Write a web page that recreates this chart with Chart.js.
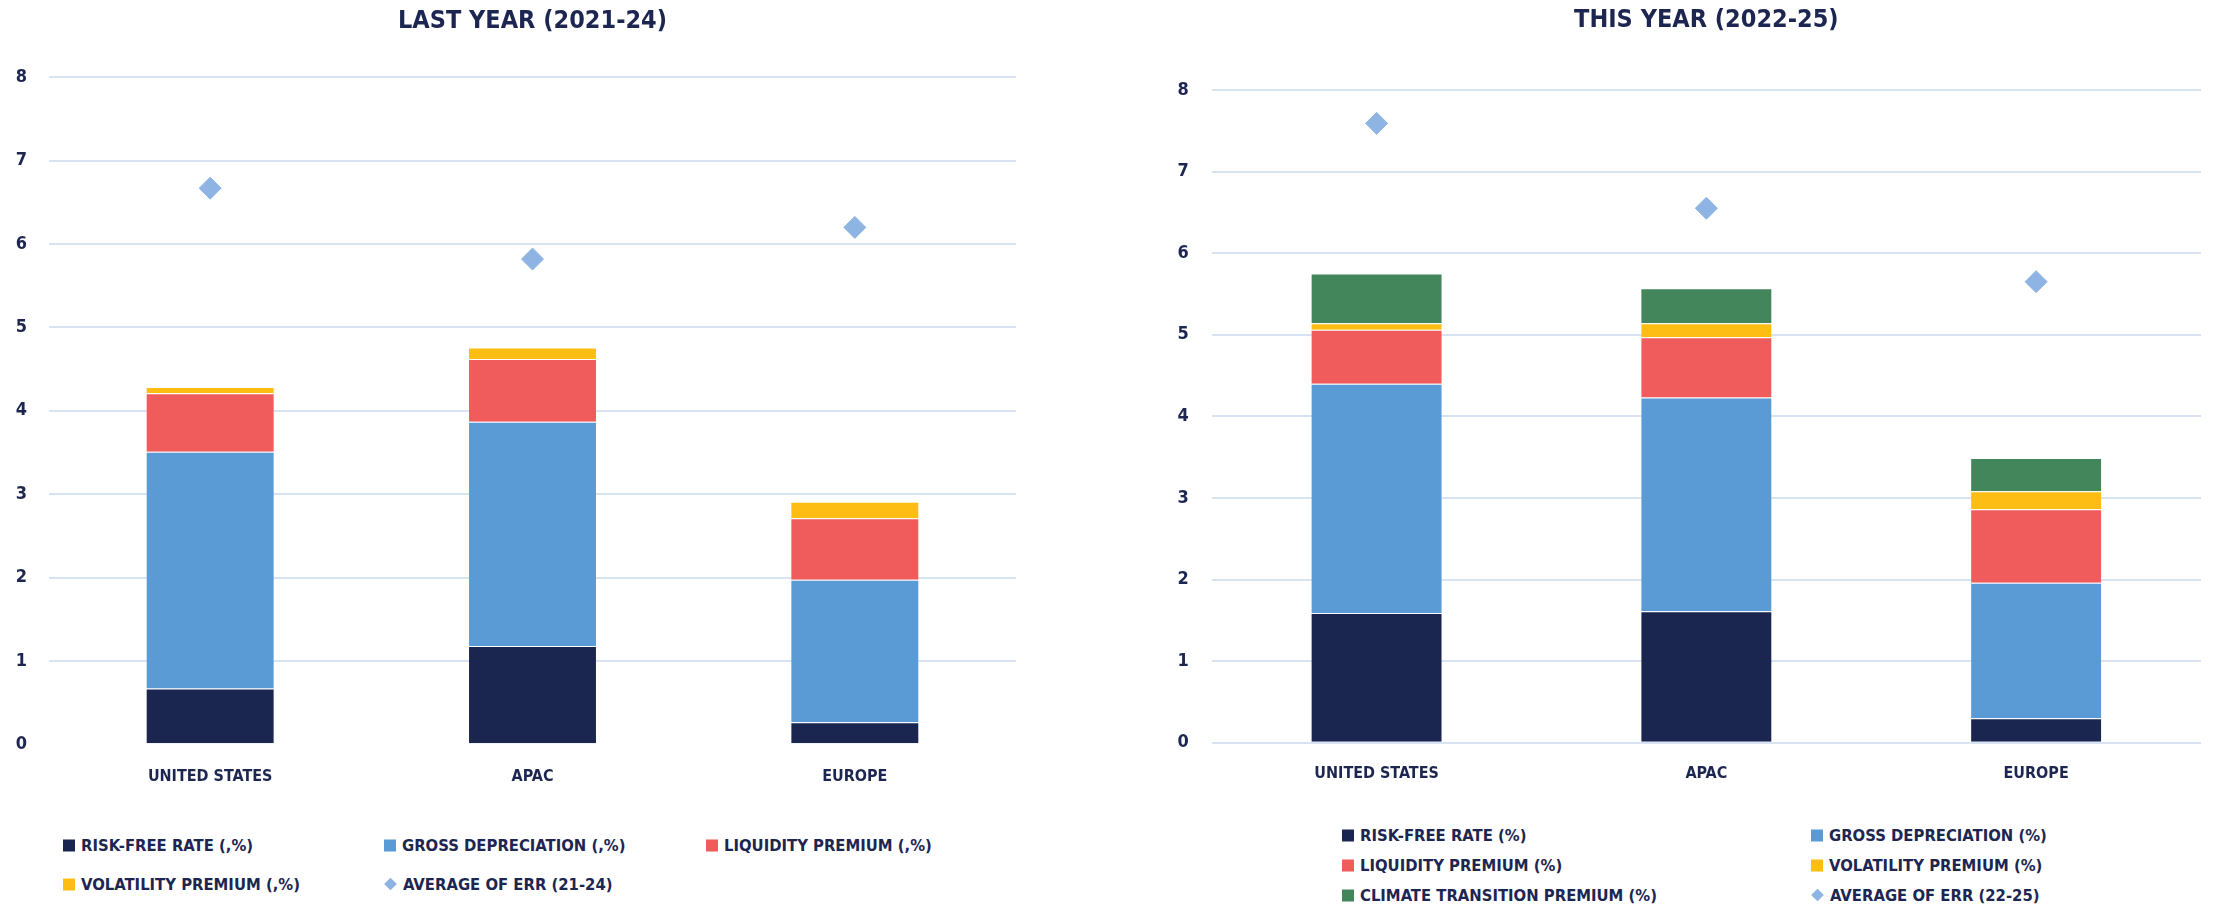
<!DOCTYPE html>
<html>
<head>
<meta charset="utf-8">
<script src="https://cdn.jsdelivr.net/npm/chart.js@4.4.1/dist/chart.umd.min.js"></script>
<style>
  html, body { margin: 0; padding: 0; background: #fff; }
  body {
    width: 2213px; height: 905px; position: relative; overflow: hidden;
    font-family: 'Liberation Sans Narrow', 'DejaVu Sans Condensed', sans-serif;
    font-weight: bold; color: #1d2651;
  }
  canvas { position: absolute; top: 0; }
  .item {
    position: absolute; display: flex; align-items: center;
    font-size: 16.5px; white-space: nowrap; transform: translateY(-50%);
  }
  .swatch { width: 12px; height: 12px; margin-right: 6px; flex: none; }
  .diamond { width: 9px; height: 9px; margin: 0 8px 0 2px; transform: rotate(45deg); flex: none; }
</style>
</head>
<body>
<canvas id="lastYear" width="1050" height="800" style="left:0px"></canvas>
<canvas id="thisYear" width="1113" height="800" style="left:1100px"></canvas>
<div id="legendLast"></div>
<div id="legendThis"></div>
<script>
const categories = ['UNITED STATES', 'APAC', 'EUROPE'];

// last year (2021-24)
const lyRiskFree   = [0.67, 1.18, 0.265];
const lyGrossDep   = [2.84, 2.69, 1.71];
const lyLiquidity  = [0.70, 0.75, 0.735];
const lyVolatility = [0.075, 0.14, 0.20];
const lyErr        = [6.67, 5.82, 6.20];

// this year (2022-25)
const tyRiskFree   = [1.59, 1.61, 0.30];
const tyGrossDep   = [2.81, 2.62, 1.66];
const tyLiquidity  = [0.66, 0.74, 0.90];
const tyVolatility = [0.08, 0.17, 0.22];
const tyClimate    = [0.61, 0.43, 0.41];
const tyErr        = [7.59, 6.55, 5.65];

const yMin = 0, yMax = 8, yStep = 1;

const navy = '#1d2651';
const colors = {
  riskFree: '#1b2650',
  grossDep: '#5b9bd5',
  liquidity: '#f05b5b',
  volatility: '#fdbd12',
  climate: '#43865c',
  err: '#8db4e2'
};
const gridColor = '#d7e3f3';

Chart.defaults.font.family = "'Liberation Sans Narrow', 'DejaVu Sans Condensed', sans-serif";
Chart.defaults.font.weight = 'bold';
Chart.defaults.color = navy;

function bar(label, values, color) {
  return {
    label: label, data: values, backgroundColor: color,
    borderColor: 'rgba(255,255,255,0.12)', borderWidth: 1,
    barPercentage: 0.4, categoryPercentage: 1.0, order: 1
  };
}

function diamonds(label, values) {
  return {
    type: 'line', label: label, data: values, stack: 'err',
    showLine: false, pointStyle: 'rectRot', pointRadius: 11,
    backgroundColor: colors.err, borderColor: colors.err,
    pointBorderWidth: 1, order: 0
  };
}

function buildChart(id, title, datasets, box) {
  return new Chart(document.getElementById(id), {
    type: 'bar',
    data: { labels: categories, datasets: datasets },
    options: {
      responsive: false,
      animation: false,
      layout: { padding: box.padding },
      plugins: {
        legend: { display: false },
        tooltip: { enabled: false },
        title: {
          display: true, text: title, fullSize: false, color: navy,
          font: { size: 25, weight: 'bold', lineHeight: 1.2 },
          padding: { top: box.titleTop, bottom: box.titleBottom }
        }
      },
      scales: {
        x: {
          stacked: true,
          grid: { display: false, drawTicks: false },
          border: { display: false },
          ticks: { font: { size: 16 }, color: navy, padding: box.xPad },
          afterFit: s => { s.height = box.xHeight; }
        },
        y: {
          stacked: true, min: yMin, max: yMax,
          border: { display: false },
          grid: {
            drawTicks: false, lineWidth: 2,
            color: ctx => (box.hideZero && ctx.tick && ctx.tick.value === 0) ? 'rgba(0,0,0,0)' : gridColor
          },
          ticks: { stepSize: yStep, font: { size: 18 }, color: navy, padding: box.yPad },
          afterFit: s => { s.width = box.yWidth; }
        }
      }
    }
  });
}

function buildLegend(chart, el, colX, rowY) {
  chart.data.datasets.forEach((ds, i) => {
    const item = document.createElement('div');
    item.className = 'item';
    item.style.left = colX[i % colX.length] + 'px';
    item.style.top = rowY[Math.floor(i / colX.length)] + 'px';
    const sw = document.createElement('span');
    sw.className = ds.type === 'line' ? 'diamond' : 'swatch';
    sw.style.background = ds.backgroundColor;
    item.appendChild(sw);
    item.appendChild(document.createTextNode(ds.label));
    el.appendChild(item);
  });
}

const lastChart = buildChart('lastYear', 'LAST YEAR (2021-24)', [
  bar('RISK-FREE RATE (,%)', lyRiskFree, colors.riskFree),
  bar('GROSS DEPRECIATION (,%)', lyGrossDep, colors.grossDep),
  bar('LIQUIDITY PREMIUM (,%)', lyLiquidity, colors.liquidity),
  bar('VOLATILITY PREMIUM (,%)', lyVolatility, colors.volatility),
  diamonds('AVERAGE OF ERR (21-24)', lyErr)
], {
  padding: { left: 0, right: 34, top: 0, bottom: 0 },
  titleTop: 6, titleBottom: 41.3,
  xPad: 22.8, xHeight: 55.7, yPad: 22, yWidth: 49, hideZero: true
});

const thisChart = buildChart('thisYear', 'THIS YEAR (2022-25)', [
  bar('RISK-FREE RATE (%)', tyRiskFree, colors.riskFree),
  bar('GROSS DEPRECIATION (%)', tyGrossDep, colors.grossDep),
  bar('LIQUIDITY PREMIUM (%)', tyLiquidity, colors.liquidity),
  bar('VOLATILITY PREMIUM (%)', tyVolatility, colors.volatility),
  bar('CLIMATE TRANSITION PREMIUM (%)', tyClimate, colors.climate),
  diamonds('AVERAGE OF ERR (22-25)', tyErr)
], {
  padding: { left: 0, right: 11, top: 0, bottom: 0 },
  titleTop: 5, titleBottom: 54.9,
  xPad: 21.7, xHeight: 57.3, yPad: 23, yWidth: 111.7, hideZero: false
});

buildLegend(lastChart, document.getElementById('legendLast'), [63, 384, 706], [845, 884]);
buildLegend(thisChart, document.getElementById('legendThis'), [1342, 1811], [835, 865, 895]);
</script>
</body>
</html>
